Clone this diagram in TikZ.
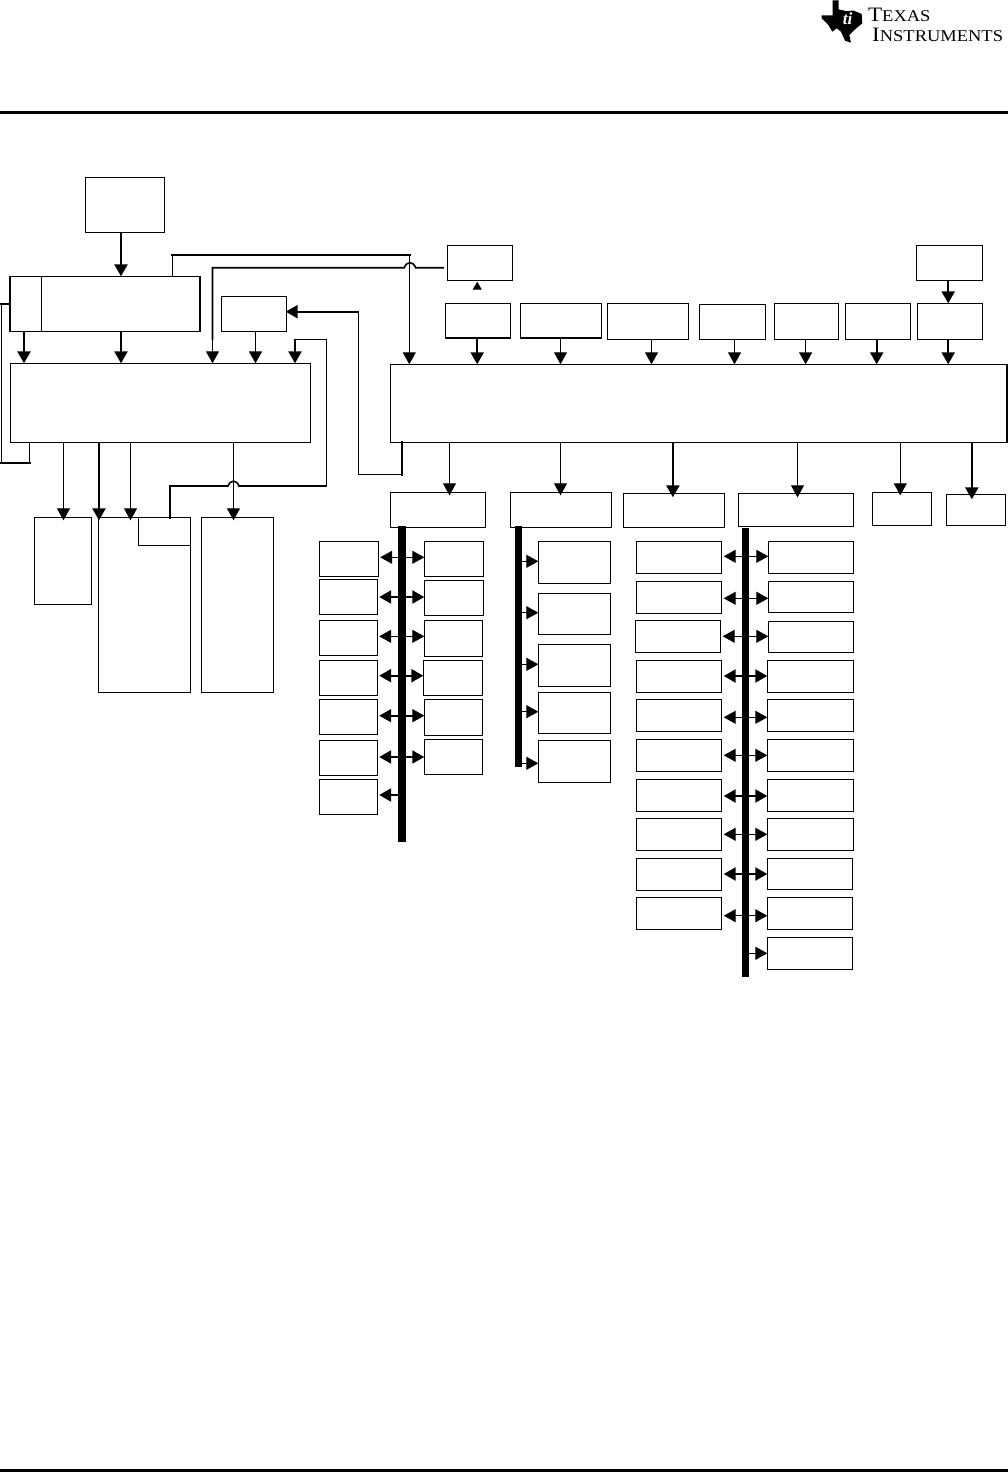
\documentclass[tikz,border=0pt]{standalone}
\usepackage{fontspec}
\setmainfont{Liberation Serif}
\usetikzlibrary{arrows.meta,calc}
\tikzset{
  boxnode/.style={draw=black,line width=1.1pt,inner sep=0pt,outer sep=0pt,rectangle},
  wthin/.style={line width=1.1pt,draw=black},
  wmed/.style={line width=1.6pt,draw=black},
  wthick/.style={line width=2.4pt,draw=black},
  wjoin/.style={line cap=rect},
  tipped/.style={-{Triangle[length=12pt,width=13pt,color=black]}},
  busbar/.style={fill=black,draw=none,inner sep=0pt,outer sep=0pt,rectangle},
  rulebar/.style={line width=3pt,draw=black},
}
\newcommand{\bx}[5]{%
  \pgfmathsetmacro{\bxcx}{(#2+#4)/2}%
  \pgfmathsetmacro{\bxcy}{(#3+#5)/2}%
  \pgfmathsetmacro{\bxw}{#4-#2}%
  \pgfmathsetmacro{\bxh}{#5-#3}%
  \node[boxnode,minimum width=\bxw pt,minimum height=\bxh pt] (#1) at (\bxcx,\bxcy) {};}
\newcommand{\bbar}[5]{%
  \pgfmathsetmacro{\bxcx}{(#2+#4)/2}%
  \pgfmathsetmacro{\bxcy}{(#3+#5)/2}%
  \pgfmathsetmacro{\bxw}{#4-#2}%
  \pgfmathsetmacro{\bxh}{#5-#3}%
  \node[busbar,minimum width=\bxw pt,minimum height=\bxh pt] (#1) at (\bxcx,\bxcy) {};}
\begin{document}
\begin{tikzpicture}[x=1pt,y=-1pt]
\useasboundingbox (0,0) rectangle (1008,1472);
\fill[white] (0,0) rectangle (1008,1472);
% header / footer rules
\draw[rulebar] (0,112.3) -- (1008,112.3);
\draw[line width=3.6pt] (0,1470.4) -- (1008,1470.4);
% logo
\fill[black] (832.5,0.5) -- (838.5,0.5) -- (838.5,9.3) -- (846.7,11.2) -- (853.3,10.5) -- (861.7,14) -- (862.3,23.3) -- (854.3,30) -- (849.3,35) -- (851,42.7) -- (845,40.7) -- (841,31.7) -- (836.7,28.3) -- (832.3,31.7) -- (828.3,25) -- (821.7,18.3) -- (821.7,15.5) -- (832.5,15.5) -- cycle;
\node[text=white,inner sep=0pt,font=\fontsize{17}{17}\selectfont\bfseries\itshape] (logoti) at (847.5,19) {ti};
\node[anchor=base west,inner sep=0pt] (logoa) at (868,22) {\addfontfeature{FakeStretch=1.12}\fontsize{20.5}{20.5}\selectfont T\fontsize{16.5}{16.5}\selectfont EXAS};
\node[anchor=base west,inner sep=0pt] (logob) at (872,41.5) {\addfontfeature{FakeStretch=1.12}\fontsize{20.5}{20.5}\selectfont I\fontsize{16.5}{16.5}\selectfont NSTRUMENTS};
% left group
\bx{top}{85.3}{177.3}{164.3}{232.3}
\bx{cpuA}{10}{276.3}{41.7}{331.3}
\bx{cpuB}{41.7}{276.3}{200}{331.3}
\draw[wmed,line cap=rect] (cpuB.north east) -- (cpuB.south east);
\bx{small}{221.3}{296.3}{286.7}{331.7}
\bx{mainL}{10.3}{363.3}{310.7}{442.3}
\bx{lowA}{34.3}{517.3}{91.3}{604.3}
\bx{lowB}{98.3}{517.3}{190.3}{692.3}
\bx{lowC}{201.3}{517.3}{273.3}{692.3}
\bx{inner}{138.3}{517.3}{190.3}{545.3}
\draw[wmed] (inner.north east) -- (inner.south east);
% right main group
\bx{mainR}{390.3}{364.3}{1007}{442.3}
\bx{rA}{447.3}{245.3}{512.6}{280.3}
\bx{rI}{916.2}{245.3}{982.5}{280.3}
\bx{rB}{445.5}{303.3}{510.4}{338}
\bx{rC}{520.3}{303.3}{601.8}{338}
\bx{rD}{607.3}{303.3}{688.8}{339.3}
\bx{rE}{699.4}{304.3}{765.8}{339.3}
\bx{rF}{774.3}{303.3}{838.8}{339.3}
\bx{rG}{845.4}{303.3}{910.7}{339.3}
\bx{rH}{917.3}{303.3}{982.5}{339.3}
\bx{bJ}{390.3}{492.3}{485.7}{527.7}
\bx{bK}{510.4}{492.3}{611.7}{527.7}
\bx{bL}{623.5}{493.3}{724.5}{527.7}
\bx{bM}{738.1}{493.3}{853.5}{526.3}
\bx{bN}{872.3}{492.3}{931.7}{525.3}
\bx{bO}{946.4}{494.3}{1005.8}{525.3}
% buses
\bbar{busA}{398}{526}{406}{842}
\bbar{busB}{515}{526}{522}{766.7}
\bbar{busC}{742}{527.7}{749}{977}
% left group connectors
\draw[wthick,tipped] (top.south -| 121,0) -- (cpuB.north -| 121,0);
\draw[wthick,tipped] (cpuA.south -| 24,0) -- (mainL.north -| 24,0);
\draw[wthick,tipped] (cpuB.south -| 121,0) -- (mainL.north -| 121,0);
\draw[wmed,tipped] (small.south -| 255.5,0) -- (mainL.north -| 255.5,0);
\draw[wthin,tipped] (mainL.south -| 63.5,0) -- ([yshift=-3pt]lowA.north -| 63.5,0);
\draw[wthick,tipped] (mainL.south -| 99,0) -- ([yshift=-3pt]lowB.north -| 99,0);
\draw[wthin,tipped] (mainL.south -| 130.5,0) -- ([yshift=-3pt]lowB.north -| 130.5,0);
\draw[wthin,tipped] (mainL.south -| 233.5,0) -- ([yshift=-3pt]lowC.north -| 233.5,0);
% cpu loop on the far left
\coordinate (la) at (1.5,304);
\coordinate (lb) at (1.5,462.7);
\coordinate (lc) at (29.5,462.7);
\draw[wthick,wjoin] (cpuA.west |- 0,304) -- (la);
\draw[wthin,wjoin] (la) -- (lb);
\draw[wthick,wjoin] (lb) -- (lc);
\draw[wmed] (lc) -- (mainL.south -| 29.5,0);
% cpu to mainR
\coordinate (ca) at (172.5,255);
\coordinate (cb) at (409.3,255);
\draw[wmed] (cpuB.north -| 172.5,0) -- (ca);
\draw[wthick,wjoin] (ca) -- (cb);
\draw[wthin,tipped] (cb) -- (mainR.north -| 409.3,0);
% rA to mainL with a jump
\draw[wmed,shorten <=3.5pt] (rA.west |- 0,267.7) -- (415.7,267.7) .. controls (413,261) and (406.7,261) .. (404.3,267.7) -- (212.5,267.7) -- (212.5,340);
\draw[wthin,tipped] (212.5,340) -- (mainL.north -| 212.5,0);
% mainR to small
\coordinate (sa) at (402,474.3);
\coordinate (sb) at (358.5,474.3);
\coordinate (sc) at (358.5,311.7);
\draw[wthick,wjoin] (mainR.south -| 402,0) -- (sa);
\draw[wthin,wjoin] (sa) -- (sb) -- (sc);
\draw[wthick,tipped,shorten >=-1pt] (sc) -- (small.east |- 0,311.7);
% inner to mainL with a jump
\coordinate (ia) at (170,486);
\coordinate (ib) at (326.5,486);
\coordinate (ic) at (326.5,339.5);
\coordinate (id) at (295,339.5);
\draw[wthick,wjoin] (inner.north -| 170,0) -- (ia);
\draw[wmed] (ia) -- (228,486) .. controls (230.5,479.5) and (236.5,479.5) .. (239,486) -- (ib);
\draw[wthin,wjoin] (ib) -- (ic) -- (id);
\draw[wthick,tipped] (id) -- (mainL.north -| 295,0);
% upper row
\draw[draw=white,line width=1pt,-{Triangle[length=8pt,width=9pt,color=black]},shorten >=1.4pt] (rB.north -| 477.2,0) -- (rA.south -| 477.2,0);
\draw[wthick,tipped] (rI.south -| 948.2,0) -- (rH.north -| 948.2,0);
\draw[wthick,tipped] (rB.south -| 477.2,0) -- (mainR.north -| 477.2,0);
\draw[wthin,tipped] (rC.south -| 560.5,0) -- (mainR.north -| 560.5,0);
\draw[wthin,tipped] (rD.south -| 651.5,0) -- (mainR.north -| 651.5,0);
\draw[wthin,tipped] (rE.south -| 734.5,0) -- (mainR.north -| 734.5,0);
\draw[wmed,tipped] (rF.south -| 805.6,0) -- (mainR.north -| 805.6,0);
\draw[wthick,tipped] (rG.south -| 876.7,0) -- (mainR.north -| 876.7,0);
\draw[wthick,tipped] (rH.south -| 948.2,0) -- (mainR.north -| 948.2,0);
% lower row
\draw[wthin,tipped] (mainR.south -| 449.5,0) -- ([yshift=-3pt]bJ.north -| 449.5,0);
\draw[wthin,tipped] (mainR.south -| 560.5,0) -- ([yshift=-3pt]bK.north -| 560.5,0);
\draw[wthick,tipped] (mainR.south -| 672.9,0) -- ([yshift=-4pt]bL.north -| 672.9,0);
\draw[wthin,tipped] (mainR.south -| 797.5,0) -- ([yshift=-4pt]bM.north -| 797.5,0);
\draw[wthin,tipped] (mainR.south -| 900.3,0) -- ([yshift=-3pt]bN.north -| 900.3,0);
\draw[wthick,tipped] (mainR.south -| 971.8,0) -- ([yshift=-5pt]bO.north -| 971.8,0);
% bus A boxes
\bx{aL1}{319.3}{541.3}{378.7}{576.3}
\bx{aL2}{319.3}{579.3}{377.7}{614.3}
\bx{aL3}{319.3}{620.3}{377.7}{655.3}
\bx{aL4}{319.3}{660.3}{377.7}{695.3}
\bx{aL5}{319.3}{699.3}{377.7}{734.3}
\bx{aL6}{319.3}{740.3}{377.7}{775.3}
\bx{aL7}{319.3}{779.3}{377.7}{814.3}
\bx{aR1}{424.3}{541.3}{483.7}{576.3}
\bx{aR2}{424.3}{580.3}{483.7}{615.3}
\bx{aR3}{424.3}{620.3}{482.7}{656.3}
\bx{aR4}{423.3}{660.3}{482.7}{695.3}
\bx{aR5}{424.3}{699.3}{482.7}{735.3}
\bx{aR6}{424.3}{739.3}{482.7}{774.3}
\foreach \i/\y/\wl/\wr in {1/557.3/wthin/wthin,2/597/wthick/wthick,3/636.3/wthin/wthin,4/675.7/wthick/wthick,5/715.7/wmed/wmed,6/757/wthick/wmed}{
  \draw[\wl,tipped,shorten >=1.5pt] (busA |- 0,\y) -- (aL\i.east |- 0,\y);
  \draw[\wr,tipped] (busA |- 0,\y) -- (aR\i.west |- 0,\y);
}
\draw[wthick,tipped,shorten >=1.5pt] (busA |- 0,795) -- (aL7.east |- 0,795);
% bus B boxes
\bx{bR1}{538.3}{541.3}{610.3}{583.3}
\bx{bR2}{538.3}{593.3}{610.3}{634.3}
\bx{bR3}{538.3}{644.3}{610.3}{686.3}
\bx{bR4}{538.3}{692.3}{610.3}{733.3}
\bx{bR5}{538.3}{740.3}{610.3}{782.3}
\foreach \i/\y in {1/561.3,2/612.7,3/664.3,4/711.7,5/763.3}{
  \draw[wthin,tipped] (busB |- 0,\y) -- (bR\i.west |- 0,\y);
}
% bus C boxes
\foreach \i/\a/\b in {1/541.3/573.3,2/581.3/613.3,4/660.3/692.3,5/699.3/731.3,6/739.3/771.3,7/779.3/811.3,8/818.3/850.3,9/858.3/890.3,10/897.3/929.3}{
  \bx{cL\i}{636.3}{\a}{721.3}{\b}
}
\bx{cL3}{635.3}{620.3}{720.3}{652.3}
\bx{cR1}{768.3}{541.3}{853.3}{573.3}
\bx{cR2}{768.3}{581.3}{853.3}{612.3}
\bx{cR3}{768.3}{621.3}{853.3}{652.3}
\foreach \i/\a/\b in {4/660.3/692.3,5/699.3/731.3,6/739.3/771.3,7/779.3/811.3,8/818.3/850.3}{
  \bx{cR\i}{767.3}{\a}{853.3}{\b}
}
\bx{cR9}{767.3}{858.3}{852.3}{889.3}
\bx{cR10}{767.3}{897.3}{852.3}{929.3}
\bx{cR11}{767.3}{937.3}{852.3}{969.3}
\foreach \i/\y/\w in {1/556.3/wthin,2/598.3/wthin,3/636.3/wthin,4/676/wthick,5/717.3/wthin,6/755.3/wthin,7/796/wthick,8/834.3/wthin,9/874/wthick,10/915.7/wthin}{
  \draw[\w,tipped,shorten >=2.4pt] (busC |- 0,\y) -- (cL\i.east |- 0,\y);
  \draw[\w,tipped] (busC |- 0,\y) -- (cR\i.west |- 0,\y);
}
\draw[wthin,tipped] (busC |- 0,953.3) -- (cR11.west |- 0,953.3);
\end{tikzpicture}
\end{document}
